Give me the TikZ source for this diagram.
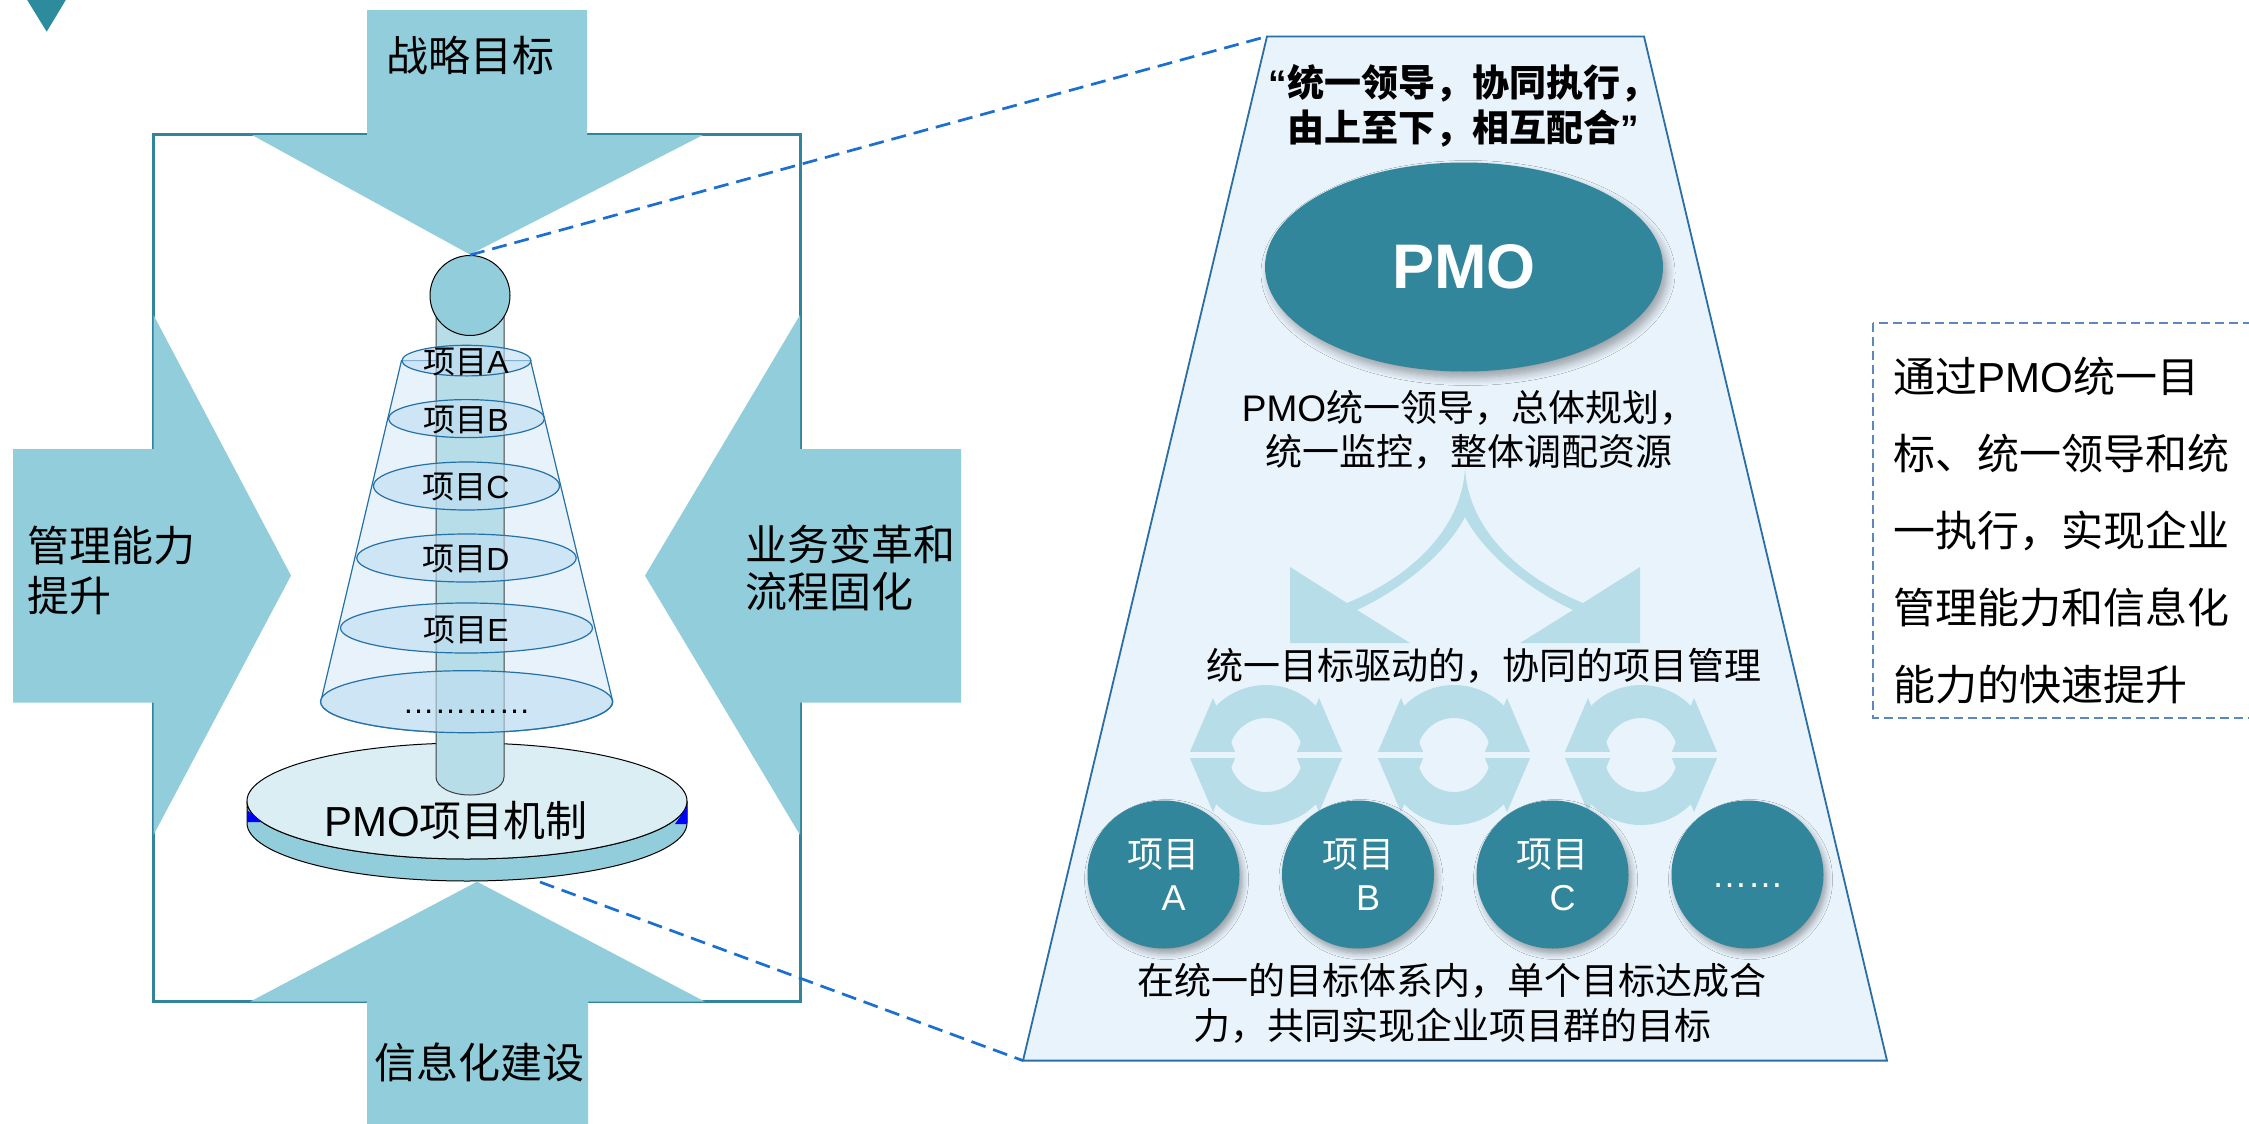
\documentclass[tikz,border=0pt]{standalone}
\usepackage{fontspec}
\setmainfont{Noto Sans CJK SC}
\newfontfamily\lat{Liberation Sans}
\usetikzlibrary{shapes.geometric,shadows.blur}

\definecolor{arrowblue}{HTML}{92CDDC}
\definecolor{frameteal}{HTML}{31849B}
\definecolor{pmoteal}{HTML}{32869B}
\definecolor{paleband}{HTML}{B7DDE8}
\definecolor{trapfill}{HTML}{E9F3FC}
\definecolor{trapedge}{HTML}{2A6EA6}
\definecolor{linkblue}{HTML}{1A6FD0}
\definecolor{notedash}{HTML}{5B87C5}
\definecolor{disktop}{HTML}{DAEEF3}
\definecolor{coneblue}{HTML}{E4F0FB}
\definecolor{ringblue}{HTML}{BEDDF3}
\definecolor{ringedge}{HTML}{2471A8}
\definecolor{markteal}{HTML}{2C8C9E}

\tikzset{
  bigarrow/.style={fill=arrowblue, draw=none},
  biglabel/.style={font=\fontsize{21}{24.5}\selectfont, inner sep=0pt, align=left},
  ringlabel/.style={font=\fontsize{16}{16}\selectfont, inner sep=0pt},
  ring/.style={fill=ringblue, fill opacity=0.6, draw=ringedge, line width=0.6pt},
  bodytext/.style={font=\fontsize{18.5}{22.5}\selectfont, inner sep=0pt, align=center},
  projball/.style={ellipse, fill=pmoteal, minimum width=76pt, minimum height=74pt,
    inner sep=0pt, text=white, align=center, font=\fontsize{18}{21.5}\selectfont,
    blur shadow={shadow xshift=1.5pt, shadow yshift=-2.5pt, shadow blur steps=6,
      shadow blur radius=3pt, shadow opacity=35}},
  linkdash/.style={draw=linkblue, line width=1.35pt, dash pattern=on 7.5pt off 4pt},
}

% one half of a cycle icon: arc band with a wedge head at each end
\newcommand{\halfcycle}{%
  \begin{scope}
    \clip (-90,-100) rectangle (90,-3.3);
    \fill[paleband, even odd rule] (0,0) circle[radius=35pt] (0,0) circle[radius=18.5pt];
    \fill[paleband] (-77.4,0) -- (-53,-57) -- (-29.6,0) -- cycle;
    \fill[paleband] (77.4,0) -- (53,-57) -- (29.6,0) -- cycle;
  \end{scope}}
\newcommand{\cycleicon}[1]{%
  \begin{scope}[shift={(#1,755)}]
    \halfcycle
    \begin{scope}[yscale=-1]\halfcycle\end{scope}
  \end{scope}}

\begin{document}
\begin{tikzpicture}[x=0.5pt, y=-0.5pt]
\path[use as bounding box, fill=white] (0,0) rectangle (2249,1124);

% corner mark
\fill[markteal] (26,-2) -- (67,-2) -- (46.7,31.7) -- cycle;

% frame
\draw[frameteal, line width=1.5pt] (153.5,134.5) rectangle (800,1001.5);

% four inward arrows
\fill[bigarrow] (367,10) -- (587,10) -- (587,135) -- (703,135) -- (470,254.5)
  -- (252,135) -- (367,135) -- cycle;
\fill[bigarrow] (367,1130) -- (367,1001.7) -- (250,1001.7) -- (477,881.7)
  -- (705,1001.7) -- (588,1001.7) -- (588,1130) -- cycle;
\fill[bigarrow] (13,449) -- (153.5,449) -- (153.5,315) -- (291,575.6)
  -- (153.5,835) -- (153.5,702.5) -- (13,702.5) -- cycle;
\fill[bigarrow] (961,449) -- (800,449) -- (800,315) -- (645,575.6)
  -- (800,835) -- (800,702.5) -- (961,702.5) -- cycle;

\node[biglabel] (lblTop) at (470,55) {战略目标};
\node[biglabel] (lblBottom) at (479,1062) {信息化建设};
\node[biglabel, anchor=west, font=\fontsize{21}{25}\selectfont] (lblLeft) at (27,570) {管理能力\\提升};
\node[biglabel, anchor=west, font=\fontsize{21}{23.5}\selectfont] (lblRight) at (745,568) {业务变革和\\流程固化};

% base disk
\filldraw[fill=arrowblue, draw=black, line width=0.5pt]
  (247,801) -- (247,823) arc[start angle=180, end angle=360, x radius=110pt, y radius=29pt]
  -- (687,801) arc[start angle=0, end angle=-180, x radius=110pt, y radius=29pt] -- cycle;
\filldraw[fill=disktop, draw=black, line width=0.5pt] (467,801) ellipse[x radius=110pt, y radius=29pt];
\fill[blue] (247,810) -- (262,822) -- (247,822) -- cycle;
\fill[blue] (687,807) -- (687,824) -- (675,824) -- cycle;
\node[biglabel] (lblDisk) at (456,821) {{\lat PMO}项目机制};

% cone
\filldraw[fill=coneblue, fill opacity=0.85, draw=ringedge, line width=0.6pt]
  (401.5,360.6) -- (320.8,701.7)
  arc[start angle=180, end angle=360, x radius=73pt, y radius=15.5pt]
  -- (530.5,360.6) -- cycle;

% shaft
\filldraw[fill=paleband, draw=black!75, line width=0.5pt]
  (436,300) -- (436,777) arc[start angle=180, end angle=360, x radius=17pt, y radius=9pt]
  -- (504,300) -- cycle;

% rings
\draw[ring] (466.5,360.6) ellipse[x radius=32.25pt, y radius=7.65pt];
\draw[ring] (466.5,418.6) ellipse[x radius=39pt, y radius=9.5pt];
\draw[ring] (466.5,486) ellipse[x radius=46.5pt, y radius=12pt];
\draw[ring] (466.5,558) ellipse[x radius=54.85pt, y radius=12pt];
\draw[ring] (466.5,628) ellipse[x radius=63pt, y radius=12.5pt];
\draw[ring] (466.5,701.7) ellipse[x radius=73pt, y radius=15.5pt];

% head
\node[circle, minimum size=40pt, inner sep=0pt, fill=arrowblue, draw=black, line width=0.5pt] (ball) at (470,295.5) {};

\node[ringlabel] (rA) at (466,362) {项目{\lat A}};
\node[ringlabel] (rB) at (466,420.5) {项目{\lat B}};
\node[ringlabel] (rC) at (466,487.5) {项目{\lat C}};
\node[ringlabel] (rD) at (466,559.5) {项目{\lat D}};
\node[ringlabel] (rE) at (466,630) {项目{\lat E}};
\node[ringlabel, font=\lat\fontsize{16}{16}\selectfont, anchor=base] (rF) at (466.5,713) {…………};

% trapezoid panel
\coordinate (trTL) at (1267,36.4);
\coordinate (trTR) at (1644,36.4);
\coordinate (trBR) at (1887,1060.6);
\coordinate (trBL) at (1023,1060.6);
\filldraw[fill=trapfill, draw=trapedge, line width=0.9pt] (trTL) -- (trTR) -- (trBR) -- (trBL) -- cycle;

\node[bodytext, font=\bfseries\fontsize{18.5}{22.5}\selectfont] (motto) at (1463,106)
  {{\lat “}统一领导，协同执行，\\由上至下，相互配合{\lat ”}};

\node[ellipse, fill=pmoteal, minimum width=199pt, minimum height=104.5pt, inner sep=0pt,
  text=white, font=\lat\bfseries\fontsize{31.5}{31.5}\selectfont,
  blur shadow={shadow xshift=2pt, shadow yshift=-3pt, shadow blur steps=8,
    shadow blur radius=4pt, shadow opacity=35}] (pmo) at (1464,267) {PMO};

\node[bodytext, font=\fontsize{18.5}{22.25}\selectfont] (lead) at (1469,430)
  {{\lat PMO}统一领导，总体规划，\\统一监控，整体调配资源};

% forked arrow from the PMO down to the projects
\fill[paleband] (1465,467) .. controls (1463,525) and (1415,575) .. (1347,603)
  -- (1290,567) -- (1290,643) -- (1410,643) -- (1357,610)
  .. controls (1400,590) and (1445,555) .. (1465,517)
  .. controls (1485,555) and (1530,590) .. (1573,610)
  -- (1520,643) -- (1640,643) -- (1640,567) -- (1583,603)
  .. controls (1515,575) and (1467,525) .. (1465,467) -- cycle;

\node[bodytext] (mid) at (1484,666) {统一目标驱动的，协同的项目管理};

% cycle icons between the projects
\cycleicon{1266}
\cycleicon{1454}
\cycleicon{1641}

% projects
\node[projball] (pA) at (1163.5,874.5) {项目\\\hspace*{10pt}{\lat A}};
\node[projball] (pB) at (1358,874.5) {项目\\\hspace*{10pt}{\lat B}};
\node[projball] (pC) at (1552.5,874.5) {项目\\\hspace*{10pt}{\lat C}};
\node[projball, font=\lat\fontsize{18}{18}\selectfont, text height=13pt, text depth=0pt] (pD) at (1747.5,874.5) {……};

\node[bodytext] (goal) at (1452,1003.5)
  {在统一的目标体系内，单个目标达成合\\力，共同实现企业项目群的目标};

% zoom guides
\coordinate (diskfoot) at (540,882);
\draw[linkdash] (ball.north) -- (trTL);
\draw[linkdash] (diskfoot) -- (trBL);

% side note
\draw[notedash, line width=0.9pt, dash pattern=on 4.5pt off 2.5pt] (1873.3,322.7) rectangle (2262,718.3);
\node[anchor=west, align=left, inner sep=0pt, font=\fontsize{21}{38.4}\selectfont] (note) at (1893,530.5)
  {通过{\lat PMO}统一目\\标、统一领导和统\\一执行，实现企业\\管理能力和信息化\\能力的快速提升};
\end{tikzpicture}
\end{document}
